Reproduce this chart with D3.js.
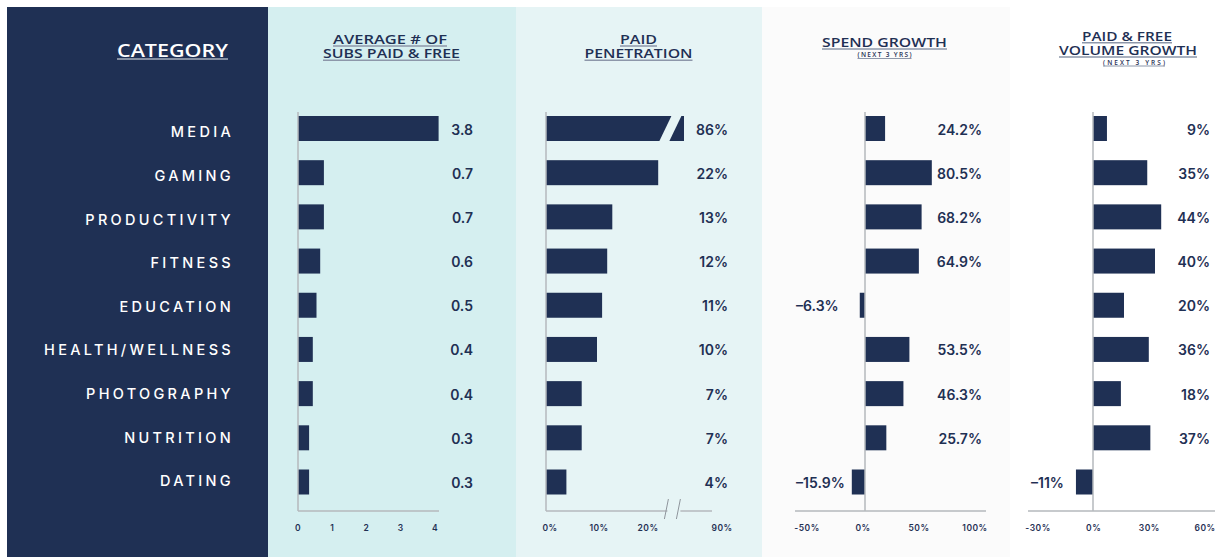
<!DOCTYPE html>
<html>
<head>
<meta charset="utf-8">
<script src="https://cdn.jsdelivr.net/npm/d3@7"></script>
<style>
  body { margin: 0; background: #fff; }
  svg text { font-family: Inter, "Open Sans", sans-serif; }
</style>
</head>
<body>
<svg id="chart" width="1217" height="557"></svg>
<script>
// data
const categories = ["MEDIA", "GAMING", "PRODUCTIVITY", "FITNESS", "EDUCATION",
  "HEALTH/WELLNESS", "PHOTOGRAPHY", "NUTRITION", "DATING"]
const avgSubs = [3.8, 0.7, 0.7, 0.6, 0.5, 0.4, 0.4, 0.3, 0.3]
const paidPenetration = [86, 22, 13, 12, 11, 10, 7, 7, 4]
const spendGrowth = [24.2, 80.5, 68.2, 64.9, -6.3, 53.5, 46.3, 25.7, -15.9]
const volumeGrowth = [9, 35, 44, 40, 20, 36, 18, 37, -11]

const subsTicks = [0, 1, 2, 3, 4]
const penTicks = [0, 10, 20, 90]
const spendTicks = [-50, 0, 50, 100]
const volumeTicks = [-30, 0, 30, 60]

const navy = "#1f3054"
const axisGrey = "#b4b8bd"
const svg = d3.select("#chart")

// panels background
const panels = [
  { x: 7, w: 261, fill: navy },
  { x: 268, w: 248, fill: "#d5eff0" },
  { x: 516, w: 246, fill: "#e6f4f5" },
  { x: 762, w: 248, fill: "#fbfbfb" },
  { x: 1010, w: 207, fill: "#ffffff" }
]
svg.selectAll("rect.panel").data(panels).enter().append("rect")
  .attr("class", "panel")
  .attr("x", d => d.x).attr("y", 7)
  .attr("width", d => d.w).attr("height", 550)
  .attr("fill", d => d.fill)

// row positions (bars and category labels sit on slightly different grids)
const yScale = d3.scalePoint().domain(categories).range([128.5, 482])
const labelScale = d3.scalePoint().domain(categories).range([132, 481])
const barH = 25
const axisY = 511

// 表头 header with underline, width fitted with textLength
function header(lines, cx, color, lineColor) {
  lines.forEach(l => {
    let t = svg.append("text")
      .attr("x", l.cx || cx).attr("y", l.y)
      .attr("text-anchor", "middle")
      .attr("fill", color)
      .attr("textLength", l.w)
      .attr("lengthAdjust", l.adj || "spacingAndGlyphs")
      .style("font-family", "'Open Sans', sans-serif")
      .style("font-weight", l.fw || 600)
      .style("font-size", (l.size || 13) + "px")
      .text(l.text)
    let x0 = (l.cx || cx) - l.w / 2
    let uy = l.y + (l.ul || 2)
    svg.append("line")
      .attr("x1", x0).attr("x2", x0 + l.w)
      .attr("y1", uy).attr("y2", uy)
      .attr("stroke", lineColor).attr("stroke-width", l.sw || 1.5)
  })
}
header([{ text: "CATEGORY", y: 57, size: 18, w: 111 }], 172.5, "#ffffff", "#a9b0be")
header([{ text: "AVERAGE # OF", y: 44, w: 114, cx: 390 },
  { text: "SUBS PAID & FREE", y: 58.3, w: 137 }], 391.5, navy, "#8d97aa")
header([{ text: "PAID", y: 44, w: 37 },
  { text: "PENETRATION", y: 58.3, w: 108 }], 638.5, navy, "#8d97aa")
header([{ text: "SPEND GROWTH", y: 47, w: 125 },
  { text: "(NEXT 3 YRS)", y: 57, size: 6.5, w: 54, ul: 1.5, sw: 1, adj: "spacing" }], 884.5, navy, "#8d97aa")
header([{ text: "PAID & FREE", y: 40.7, w: 90, cx: 1127 },
  { text: "VOLUME GROWTH", y: 55, w: 138 },
  { text: "(NEXT 3 YRS)", y: 64.5, size: 6.5, w: 62, ul: 1.5, sw: 1, adj: "spacing", cx: 1134 }], 1128, navy, "#8d97aa")

// category labels
svg.selectAll("text.cat").data(categories).enter().append("text")
  .attr("class", "cat")
  .attr("x", 234)
  .attr("y", d => labelScale(d) + 5.3)
  .attr("text-anchor", "end")
  .attr("fill", "#ffffff")
  .style("font-size", "14.5px")
  .style("font-weight", 500)
  .style("letter-spacing", "3.3px")
  .text(d => d)

// helpers
function tickLabels(ticks, scale, fmt) {
  svg.append("g").selectAll("text").data(ticks).enter().append("text")
    .attr("x", d => scale(d))
    .attr("y", 531)
    .attr("text-anchor", "middle")
    .attr("fill", navy)
    .style("font-size", "8.5px")
    .style("font-weight", 600)
    .style("letter-spacing", "0.5px")
    .text(fmt)
}
function hLine(x1, x2) {
  svg.append("line").attr("x1", x1).attr("x2", x2)
    .attr("y1", axisY).attr("y2", axisY)
    .attr("stroke", axisGrey).attr("stroke-width", 1.5)
}
function vLine(x) {
  svg.append("line").attr("x1", x).attr("x2", x)
    .attr("y1", 112).attr("y2", axisY)
    .attr("stroke", axisGrey).attr("stroke-width", 1.5)
}
function valueLabels(values, xFn, anchorFn, fmt) {
  svg.append("g").selectAll("text").data(values).enter().append("text")
    .attr("x", (d, i) => xFn(d, i))
    .attr("y", (d, i) => yScale(categories[i]) + 6)
    .attr("text-anchor", anchorFn)
    .attr("fill", navy)
    .style("font-size", "14px")
    .style("font-weight", 600)
    .text(fmt)
}

// ---- panel 2: average subs
const xSubs = d3.scaleLinear().domain([0, 4]).range([298, 446])
const xSubsTick = d3.scaleLinear().domain([0, 4]).range([298, 435])
svg.append("g").selectAll("rect").data(avgSubs).enter().append("rect")
  .attr("x", xSubs(0))
  .attr("y", (d, i) => yScale(categories[i]) - barH / 2)
  .attr("width", d => xSubs(d) - xSubs(0))
  .attr("height", barH)
  .attr("fill", navy)
vLine(298)
hLine(298, 439)
tickLabels(subsTicks, xSubsTick, d => d)
valueLabels(avgSubs, () => 473, "end", d => d.toFixed(1))

// ---- panel 3: paid penetration (broken axis)
const xPen = d3.scaleLinear().domain([0, 24, 85, 90]).range([546, 668.4, 682, 692])
const xPenTick = d3.scaleLinear().domain([0, 10, 20, 90]).range([550, 599, 648, 722])
const breakX = xPen(24)
const penBars = svg.append("g")
paidPenetration.forEach((d, i) => {
  let y0 = yScale(categories[i]) - barH / 2
  let y1 = y0 + barH
  if (d > 24) {
    let xe = xPen(d)
    penBars.append("path")
      .attr("d", d3.line()([[xPen(0), y0], [breakX + 3, y0], [breakX - 9, y1], [xPen(0), y1]]))
      .attr("fill", navy)
    penBars.append("path")
      .attr("d", d3.line()([[breakX + 13, y0], [xe, y0], [xe, y1], [breakX + 1, y1]]))
      .attr("fill", navy)
  } else {
    penBars.append("rect")
      .attr("x", xPen(0)).attr("y", y0)
      .attr("width", xPen(d) - xPen(0)).attr("height", barH)
      .attr("fill", navy)
  }
})
vLine(546)
hLine(546, breakX - 1)
hLine(breakX + 12, 712)
;[breakX - 2, breakX + 10].forEach(bx => {
  svg.append("line")
    .attr("x1", bx - 2).attr("y1", 519)
    .attr("x2", bx + 2).attr("y2", 499)
    .attr("stroke", "#8f959c").attr("stroke-width", 1)
})
tickLabels(penTicks, xPenTick, d => d + "%")
valueLabels(paidPenetration, () => 728, "end", d => d + "%")

// ---- panel 4: spend growth
const xSpend = d3.scaleLinear().domain([-50, 100]).range([823.5, 948])
const xSpendTick = d3.scaleLinear().domain([-50, 100]).range([807, 975])
svg.append("g").selectAll("rect").data(spendGrowth).enter().append("rect")
  .attr("x", d => xSpend(Math.min(0, d)))
  .attr("y", (d, i) => yScale(categories[i]) - barH / 2)
  .attr("width", d => Math.abs(xSpend(d) - xSpend(0)))
  .attr("height", barH)
  .attr("fill", navy)
vLine(xSpend(0))
hLine(795, 986)
tickLabels(spendTicks, xSpendTick, d => d + "%")
valueLabels(spendGrowth, d => d < 0 ? 796 : 982, d => d < 0 ? "start" : "end",
  d => (d < 0 ? "\u2013" + Math.abs(d).toFixed(1) : d.toFixed(1)) + "%")

// ---- panel 5: volume growth
const xVol = d3.scaleLinear().domain([-30, 60]).range([1046.5, 1186])
const xVolTick = d3.scaleLinear().domain([-30, 60]).range([1038, 1205])
svg.append("g").selectAll("rect").data(volumeGrowth).enter().append("rect")
  .attr("x", d => xVol(Math.min(0, d)))
  .attr("y", (d, i) => yScale(categories[i]) - barH / 2)
  .attr("width", d => Math.abs(xVol(d) - xVol(0)))
  .attr("height", barH)
  .attr("fill", navy)
vLine(xVol(0))
hLine(1028, 1215)
tickLabels(volumeTicks, xVolTick, d => d + "%")
valueLabels(volumeGrowth, d => d < 0 ? 1031 : 1210, d => d < 0 ? "start" : "end",
  d => (d < 0 ? "\u2013" + Math.abs(d) : d) + "%")
</script>
</body>
</html>
